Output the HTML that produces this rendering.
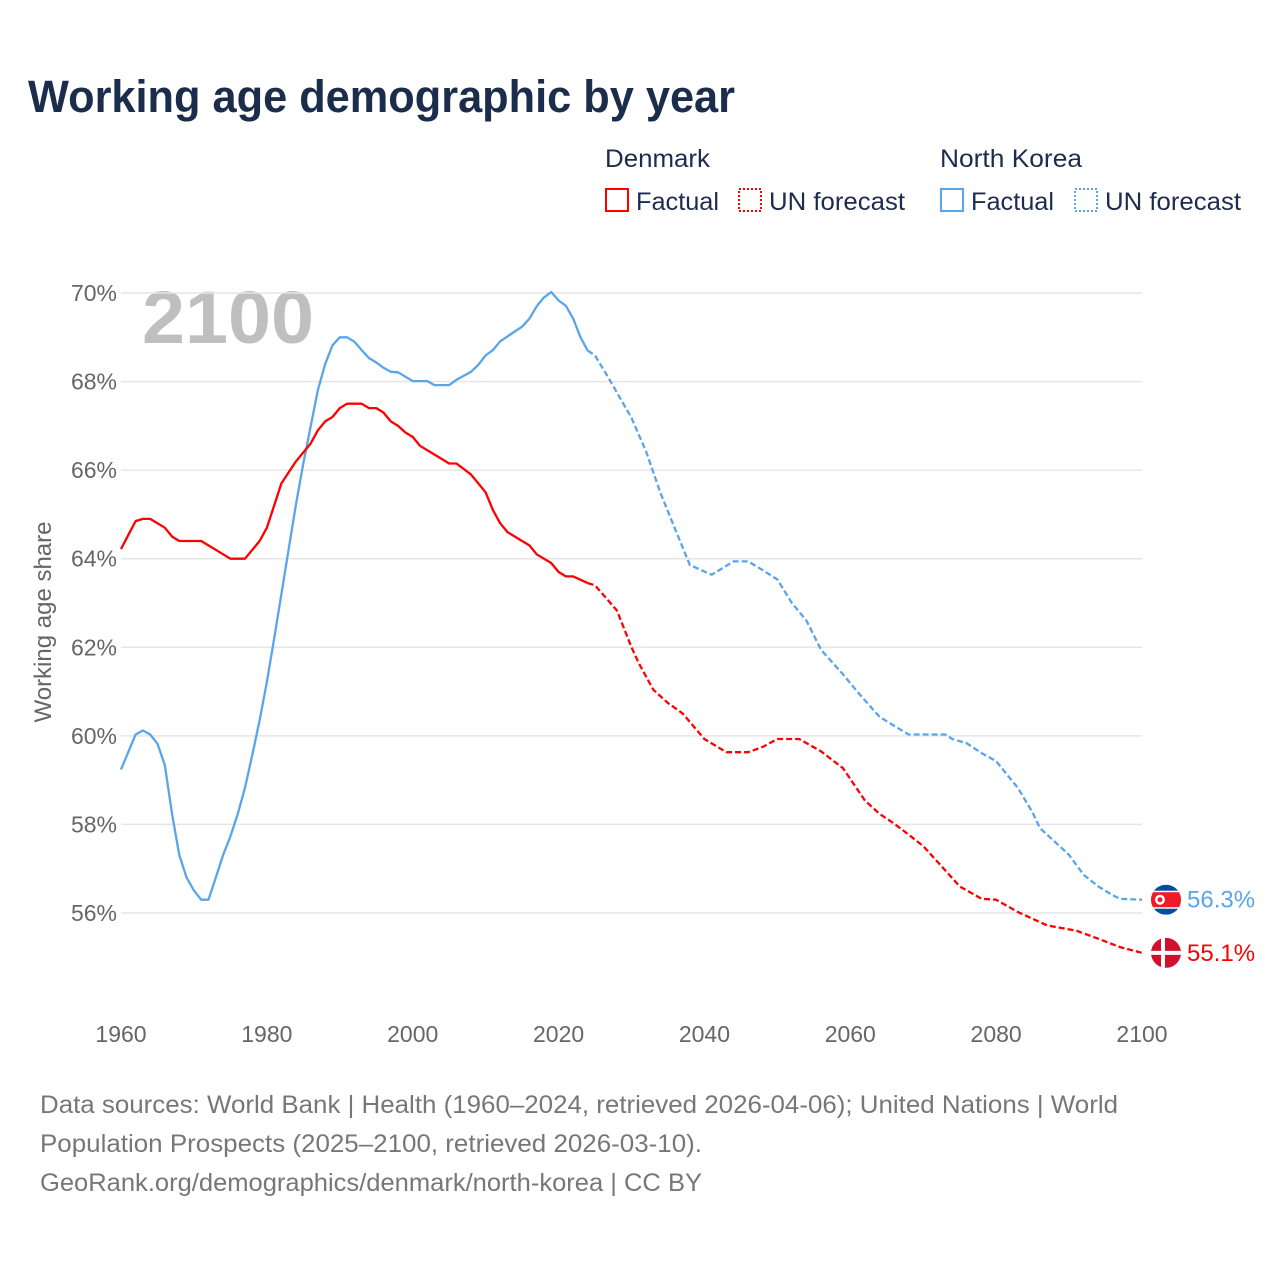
<!DOCTYPE html>
<html><head><meta charset="utf-8"><style>
body{margin:0;background:#fff;width:1280px;height:1280px;overflow:hidden;font-family:"Liberation Sans",sans-serif}
svg{display:block}
</style></head><body>
<svg id="chart" width="1280" height="1280" viewBox="0 0 1280 1280">
<text x="28" y="112" font-size="45" font-weight="bold" fill="#1b2d4b" textLength="707" lengthAdjust="spacingAndGlyphs">Working age demographic by year</text>
<g font-size="25" fill="#1d2b4f">
<text x="605" y="167" textLength="105" lengthAdjust="spacingAndGlyphs">Denmark</text>
<text x="940" y="167" textLength="142" lengthAdjust="spacingAndGlyphs">North Korea</text>
<g><rect x="606" y="189" width="22" height="22" fill="none" stroke="#ff0000" stroke-width="2"/><text x="636" y="210" textLength="83" lengthAdjust="spacingAndGlyphs">Factual</text></g>
<g><rect x="739" y="189" width="22" height="22" fill="none" stroke="#ff0000" stroke-width="2" stroke-dasharray="2,2"/><text x="769" y="210" textLength="136" lengthAdjust="spacingAndGlyphs">UN forecast</text></g>
<g><rect x="941" y="189" width="22" height="22" fill="none" stroke="#5aa5ea" stroke-width="2"/><text x="971" y="210" textLength="83" lengthAdjust="spacingAndGlyphs">Factual</text></g>
<g><rect x="1075" y="189" width="22" height="22" fill="none" stroke="#5aa5ea" stroke-width="2" stroke-dasharray="2,2"/><text x="1105" y="210" textLength="136" lengthAdjust="spacingAndGlyphs">UN forecast</text></g>
</g>
<text x="142" y="343" font-size="74" font-weight="bold" fill="#bfbfbf" textLength="172" lengthAdjust="spacingAndGlyphs">2100</text>
<text transform="translate(51,622) rotate(-90)" text-anchor="middle" font-size="24" fill="#666">Working age share</text>
<g id="grid"></g><g id="lines"></g><g id="ends"></g>
<g font-size="25" fill="#777">
<text x="40" y="1113" textLength="1078" lengthAdjust="spacingAndGlyphs">Data sources: World Bank | Health (1960–2024, retrieved 2026-04-06); United Nations | World</text>
<text x="40" y="1152" textLength="662" lengthAdjust="spacingAndGlyphs">Population Prospects (2025–2100, retrieved 2026-03-10).</text>
<text x="40" y="1191" textLength="662" lengthAdjust="spacingAndGlyphs">GeoRank.org/demographics/denmark/north-korea | CC BY</text>
</g>
</svg>
<script>
const yTicks=[56,58,60,62,64,66,68,70];
const xTicks=[1960,1980,2000,2020,2040,2060,2080,2100];
const dkFactYears=[1960,1962,1963,1964,1966,1967,1968,1971,1975,1977,1979,1980,1982,1984,1986,1987,1988,1989,1990,1991,1993,1994,1995,1996,1997,1998,1999,2000,2001,2003,2005,2006,2008,2010,2011,2012,2013,2015,2016,2017,2019,2020,2021,2022,2024];
const dkFactVals=[64.22,64.85,64.9,64.9,64.7,64.5,64.4,64.4,64.0,64.0,64.4,64.7,65.7,66.2,66.6,66.9,67.1,67.2,67.4,67.5,67.5,67.4,67.4,67.3,67.1,67.0,66.85,66.75,66.55,66.35,66.15,66.15,65.9,65.5,65.1,64.8,64.6,64.4,64.3,64.1,63.9,63.7,63.6,63.6,63.45];
const dkFcYears=[2024,2025,2028,2030,2031,2033,2035,2037,2040,2043,2046,2048,2050,2053,2056,2059,2062,2064,2066,2068,2070,2072,2075,2078,2080,2083,2087,2091,2094,2097,2100];
const dkFcVals=[63.45,63.4,62.83,62.0,61.64,61.04,60.74,60.51,59.93,59.63,59.63,59.75,59.93,59.93,59.65,59.27,58.54,58.24,58.02,57.77,57.51,57.15,56.6,56.32,56.3,56.02,55.72,55.6,55.42,55.23,55.1];
const kpFactYears=[1960,1962,1963,1964,1965,1966,1967,1968,1969,1970,1971,1972,1973,1974,1975,1976,1977,1978,1979,1980,1981,1982,1983,1984,1985,1986,1987,1988,1989,1990,1991,1992,1993,1994,1995,1996,1997,1998,1999,2000,2002,2003,2005,2006,2008,2009,2010,2011,2012,2013,2014,2015,2016,2017,2018,2019,2020,2021,2022,2023,2024];
const kpFactVals=[59.24,60.03,60.12,60.03,59.82,59.34,58.23,57.31,56.8,56.51,56.3,56.3,56.8,57.31,57.73,58.23,58.83,59.57,60.35,61.22,62.19,63.2,64.22,65.23,66.15,66.98,67.81,68.4,68.82,69.0,69.0,68.9,68.71,68.53,68.43,68.31,68.22,68.21,68.11,68.01,68.01,67.92,67.92,68.04,68.22,68.38,68.59,68.71,68.91,69.02,69.13,69.24,69.42,69.7,69.9,70.02,69.83,69.71,69.42,69.0,68.7];
const kpFcYears=[2024,2025,2027,2030,2032,2034,2036,2038,2040,2041,2044,2046,2048,2050,2052,2054,2056,2059,2061,2064,2066,2068,2073,2074,2076,2078,2080,2083,2085,2086,2090,2092,2094,2096,2097,2100];
const kpFcVals=[68.7,68.59,68.04,67.18,66.42,65.47,64.66,63.86,63.71,63.64,63.94,63.94,63.74,63.53,63.0,62.6,61.94,61.39,60.99,60.43,60.23,60.03,60.03,59.93,59.83,59.61,59.43,58.82,58.27,57.92,57.31,56.86,56.6,56.4,56.32,56.3];
const dkEnd=[55.1], kpEnd=[56.3];
const NS='http://www.w3.org/2000/svg';
const X=y=>121+(y-1960)*(1142-121)/140;
const Y=v=>293+(70-v)*(913-293)/14;
function mk(tag,attrs,parent){const e=document.createElementNS(NS,tag);for(const k in attrs)e.setAttribute(k,attrs[k]);parent.appendChild(e);return e;}
const grid=document.getElementById('grid'),lines=document.getElementById('lines'),ends=document.getElementById('ends');
yTicks.forEach(t=>{
  const l=mk('line',{x1:121,x2:1142,y1:Y(t),y2:Y(t),stroke:'#e6e6e6','stroke-width':1.5},grid);
  
  
  const tx=mk('text',{x:117,y:Y(t)+8,'text-anchor':'end','font-size':23,fill:'#666'},grid);
  tx.textContent=t+'%';
  
  
});
xTicks.forEach(t=>{
  const tx=mk('text',{x:X(t),y:1042,'text-anchor':'middle','font-size':23,fill:'#666'},grid);
  tx.textContent=t;
  
  
});
function series(ys,vs,color,dash,name){
  const d=ys.map((y,i)=>(i?'L':'M')+X(y).toFixed(1)+','+Y(vs[i]).toFixed(1)).join('');
  const p=mk('path',{d:d,fill:'none',stroke:color,'stroke-width':2.3,'stroke-linejoin':'round'},lines);
  if(dash)p.setAttribute('stroke-dasharray','6,3');
  
  
}
series(kpFactYears,kpFactVals,'#5aa5ea',false,'north-korea-factual-line');
series(kpFcYears,kpFcVals,'#5aa5ea',true,'north-korea-forecast-line');
series(dkFactYears,dkFactVals,'#ff0000',false,'denmark-factual-line');
series(dkFcYears,dkFcVals,'#ff0000',true,'denmark-forecast-line');
const cx=1166;
const kpy=Y(kpEnd[0]), dky=Y(dkEnd[0]);
const kp=mk('g',{},ends);


const cp1=mk('clipPath',{id:'c1'},kp);mk('circle',{cx:cx,cy:kpy,r:15},cp1);
const g1=mk('g',{'clip-path':'url(#c1)'},kp);
mk('rect',{x:cx-15,y:kpy-15,width:30,height:30,fill:'#024fa2'},g1);
mk('rect',{x:cx-15,y:kpy-9,width:30,height:18,fill:'#fff'},g1);
mk('rect',{x:cx-15,y:kpy-7.5,width:30,height:15,fill:'#ed1c27'},g1);
mk('circle',{cx:cx-6,cy:kpy,r:5,fill:'#fff'},g1);
mk('circle',{cx:cx-6,cy:kpy,r:2.5,fill:'#ed1c27'},g1);
const dk=mk('g',{},ends);


const cp2=mk('clipPath',{id:'c2'},dk);mk('circle',{cx:cx,cy:dky,r:15},cp2);
const g2=mk('g',{'clip-path':'url(#c2)'},dk);
mk('rect',{x:cx-15,y:dky-15,width:30,height:30,fill:'#d2102e'},g2);
mk('rect',{x:cx-5,y:dky-15,width:4,height:30,fill:'#fff'},g2);
mk('rect',{x:cx-15,y:dky-2,width:30,height:4,fill:'#fff'},g2);
const t1=mk('text',{x:1187,y:kpy+8,'font-size':24,fill:'#5aa5ea'},ends);
t1.textContent=kpEnd[0].toFixed(1)+'%';


const t2=mk('text',{x:1187,y:dky+8,'font-size':24,fill:'#ff0000'},ends);
t2.textContent=dkEnd[0].toFixed(1)+'%';


</script>
</body></html>
